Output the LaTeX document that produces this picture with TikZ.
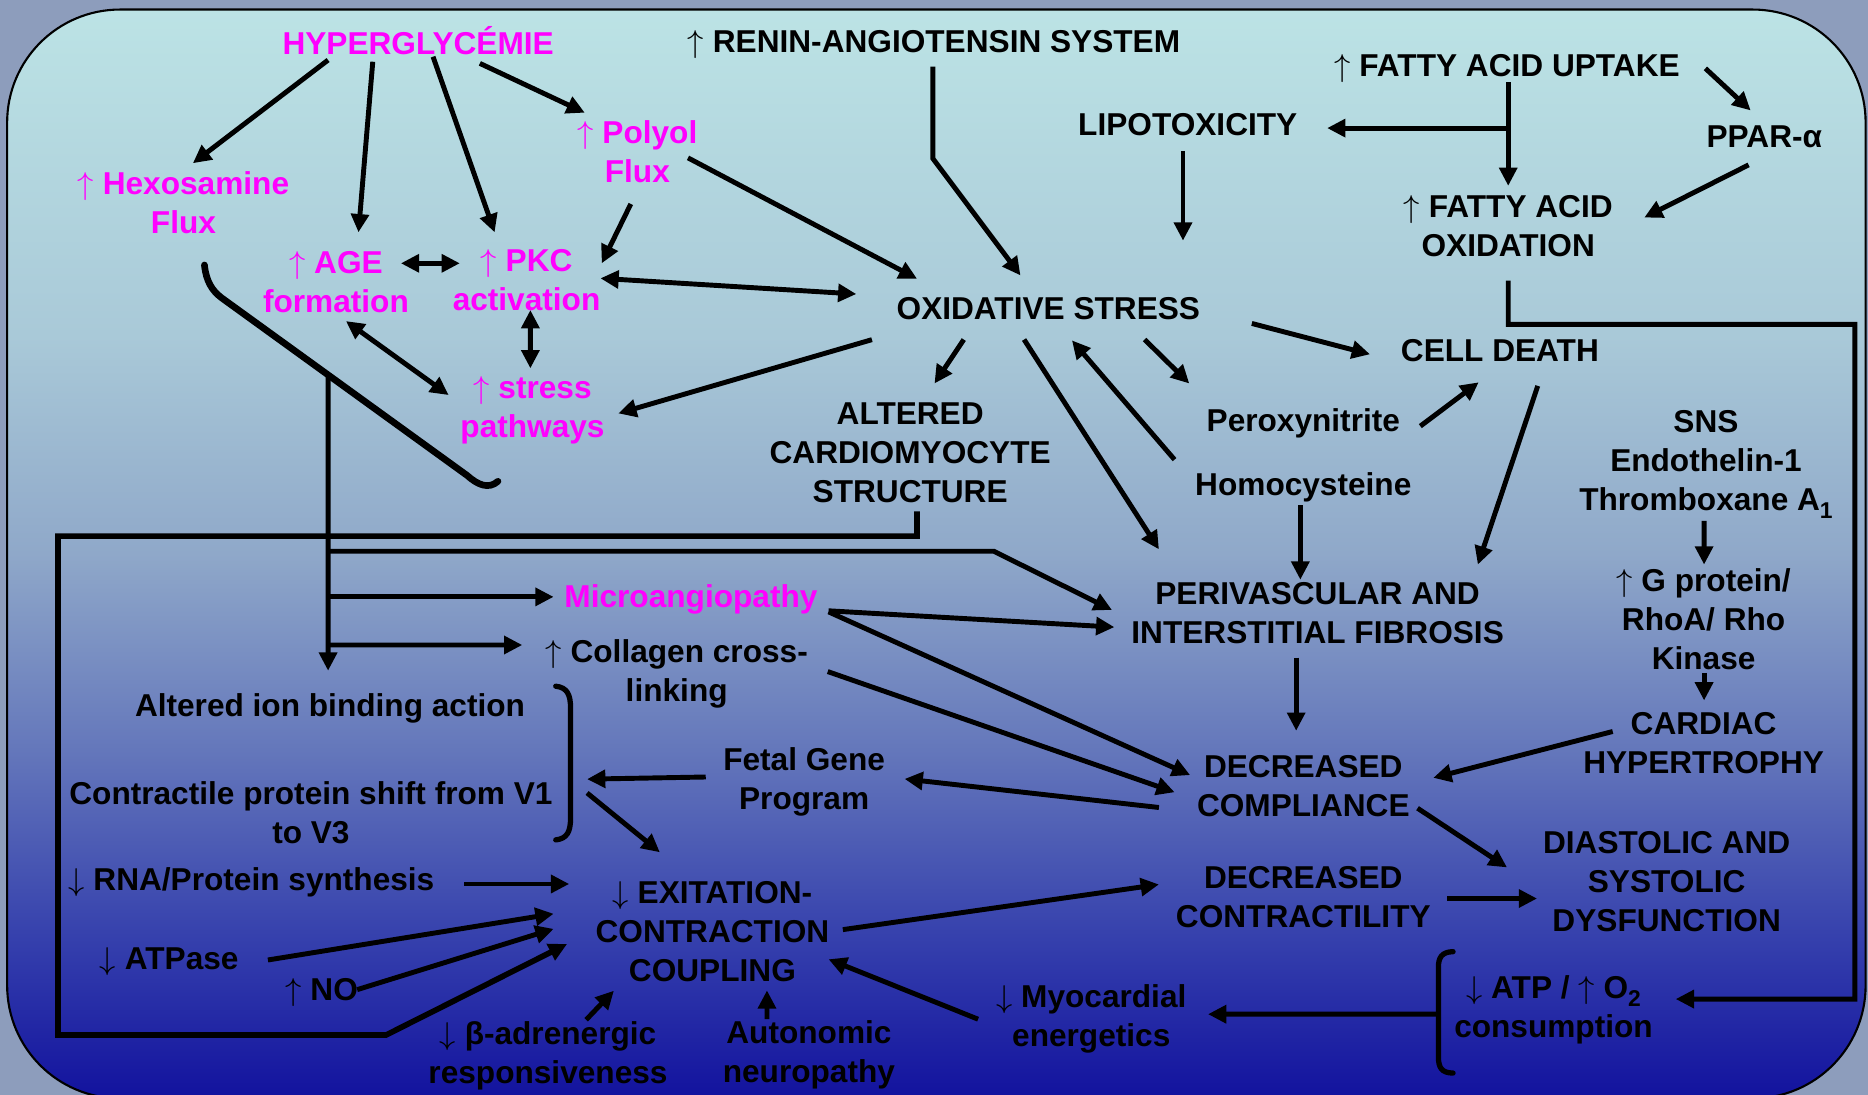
\documentclass[tikz,border=0pt]{standalone}
\usepackage{fontspec}
\setmainfont{Liberation Sans}
\usetikzlibrary{arrows.meta, calc}
\definecolor{magpink}{RGB}{255,0,255}
\definecolor{bgA}{HTML}{BCE3E5}
\definecolor{bgB}{HTML}{A9C9D8}
\definecolor{bgC}{HTML}{8FA8C9}
\definecolor{bgD}{HTML}{6477BB}
\definecolor{bgE}{HTML}{3641AD}
\definecolor{bgF}{HTML}{12129E}
\definecolor{outerbg}{HTML}{8D9DBC}
\pgfdeclareverticalshading{slideshade}{100bp}{color(0bp)=(bgF); color(25bp)=(bgF); color(32.5bp)=(bgE);
  color(41bp)=(bgD); color(50bp)=(bgC); color(60bp)=(bgB); color(75bp)=(bgA); color(100bp)=(bgA)}
\newcommand{\UpArr}{\smash{$\uparrow$}}
\newcommand{\DnArr}{\smash{$\downarrow$}}
\newcommand{\Sub}[1]{\smash{\raisebox{-0.45ex}{\fontsize{6.5}{6.5}\selectfont #1}}}

\begin{document}
\begin{tikzpicture}[
    x=0.011913cm, y=-0.011913cm,
    >={Triangle[length=5.2pt,width=5pt]},
    lbl/.style={font=\fontsize{9}{11.1}\selectfont\bfseries, align=center, inner sep=0pt},
    mag/.style={lbl, text=magpink},
    arr/.style={->, line width=1.4pt},
    dbl/.style={<->, line width=1.4pt},
    brk/.style={line width=1.5pt, line cap=round}
  ]
    % Background
    \useasboundingbox (0,0) rectangle (1568,919);
    \fill[outerbg] (0,0) rectangle (1568,919);
    \shade[shading=slideshade, draw=black, line width=0.6pt, rounded corners=1.13cm] (6,8) rectangle (1566,922);

    % Top row
    \node[mag] (hyper) at (351,34) {HYPERGLYCÉMIE};
    \node[lbl] (renin) at (784,35) {\UpArr{} RENIN-ANGIOTENSIN SYSTEM};
    \node[lbl] (fauptake) at (1265,55) {\UpArr{} FATTY ACID UPTAKE};
    \node[lbl] (lipo) at (997,105) {LIPOTOXICITY};
    \node[lbl] (ppar) at (1481,115) {PPAR-α};
    \node[lbl] (faox) at (1266,190) {\UpArr{} FATTY ACID\\OXIDATION};

    % Hyperglycaemia pathways
    \node[mag] (polyol) at (535,127) {\UpArr{} Polyol\\Flux};
    \node[mag] (hexo) at (154,170) {\UpArr{} Hexosamine\\Flux};
    \node[mag] (age) at (282,237) {\UpArr{} AGE\\formation};
    \node[mag] (pkc) at (442,235) {\UpArr{} PKC\\activation};
    \node[mag] (stress) at (447,345) {\UpArr{} stress\\pathways};

    % Middle
    \node[lbl] (oxst) at (880,259) {OXIDATIVE STRESS};
    \node[lbl] (death) at (1259,294) {CELL DEATH};
    \node[lbl] (altered) at (764,380) {ALTERED\\CARDIOMYOCYTE\\STRUCTURE};
    \node[lbl] (peroxy) at (1094,355) {Peroxynitrite};
    \node[lbl] (homo) at (1094,409) {Homocysteine};
    \node[lbl] (sns) at (1432,387) {SNS\\Endothelin-1\\Thromboxane A\Sub{1}};
    \node[lbl] (fibro) at (1106,515) {PERIVASCULAR AND\\INTERSTITIAL FIBROSIS};
    \node[mag] (micro) at (580,503) {Microangiopathy};
    \node[lbl] (collagen) at (568,566) {\UpArr{} Collagen cross-\\linking};
    \node[lbl] (gprot) at (1430,520) {\UpArr{} G protein/\\RhoA/ Rho\\Kinase};

    % Lower part
    \node[lbl] (ion) at (277,595) {Altered ion binding action};
    \node[lbl] (contractile) at (261,682) {Contractile protein shift from V1\\to V3};
    \node[lbl] (fetal) at (675,656) {Fetal Gene\\Program};
    \node[lbl] (compl) at (1094,660) {DECREASED\\COMPLIANCE};
    \node[lbl] (hypertr) at (1430,624) {CARDIAC\\HYPERTROPHY};
    \node[lbl] (dysf) at (1399,740) {DIASTOLIC AND\\SYSTOLIC\\DYSFUNCTION};
    \node[lbl] (rna) at (211,741) {\DnArr{} RNA/Protein synthesis};
    \node[lbl] (ecc) at (598,782) {\DnArr{} EXITATION-\\CONTRACTION\\COUPLING};
    \node[lbl] (contr) at (1094,753) {DECREASED\\CONTRACTILITY};
    \node[lbl] (atpase) at (142,805) {\DnArr{} ATPase};
    \node[lbl] (no) at (270,831) {\UpArr{} NO};
    \node[lbl] (myo) at (916,855) {\DnArr{} Myocardial\\energetics};
    \node[lbl] (atp) at (1304,848) {\DnArr{} ATP / \UpArr{} O\Sub{2}\\consumption};
    \node[lbl] (beta) at (460,886) {\DnArr{} β-adrenergic\\responsiveness};
    \node[lbl] (auto) at (679,885) {Autonomic\\neuropathy};

    % Helper points
    \coordinate (spine) at (275.4,314.8);
    \coordinate (jFib) at (275.4,462.7);
    \coordinate (jMic) at (275.4,501);
    \coordinate (jCol) at (275.4,541.4);
    \coordinate (loopNW) at (48.7,450);
    \coordinate (loopSW) at (48.7,868.8);
    \coordinate (loopSE) at (324,868.8);
    \coordinate (rimNE) at (1557,272.3);
    \coordinate (rimSE) at (1557,838.6);
    \coordinate (ionbrk) at (478,654);
    \coordinate (atpbrk) at (1207.4,851.3);

    % Hyperglycaemia arrows
    \draw[arr] ($(hyper)+(-75.6,16.4)$) -- ($(hexo)+(7.9,-33)$);
    \draw[arr] ($(hyper)+(-38.1,17.8)$) -- ($(age)+(18.9,-42)$);
    \draw[arr] ($(hyper)+(12.5,13.6)$) -- ($(pkc)+(-26.8,-40)$);
    \draw[arr] ($(hyper)+(51.8,19.2)$) -- ($(polyol)+(-44.1,-32.4)$);
    \draw[arr] ($(polyol)+(-5.5,44.2)$) -- ($(pkc)+(63.1,-14)$);
    \draw[arr] ($(polyol)+(42.5,5.5)$) -- ($(oxst)+(-110.2,-25)$);
    \draw[dbl] ($(age)+(54.5,-16)$) -- ($(pkc)+(-56,-14)$);
    \draw[dbl] ($(pkc)+(62,-1.4)$) -- ($(oxst)+(-161.2,-12.2)$);
    \draw[dbl] ($(pkc)+(3.2,25.2)$) -- ($(stress)+(-1.8,-35.8)$);
    \draw[dbl] ($(age)+(8.4,32.5)$) -- ($(stress)+(-70.4,-13.4)$);
    \draw[arr] ($(oxst)+(-148.1,26.1)$) -- ($(stress)+(72,2)$);
    \draw[line width=1.9pt, line cap=round] ($(hexo)+(17.6,52.4)$) .. controls (173,236) and (178,244) .. (186,250)
      -- (392,399) .. controls (401,407) and (410,411) .. (418,404);

    % Oxidative stress and lipids
    \draw[arr] ($(renin)+(-1,21)$) -- ++(0,77) -- ($(oxst)+(-23.4,-27.8)$);
    \draw[arr] ($(fauptake)+(1,14)$) -- ($(faox)+(0,-34)$);
    \draw[arr] ($(fauptake)+(1,52.5)$) -- ($(lipo)+(117,2.5)$);
    \draw[arr] ($(lipo)+(-4,21.6)$) -- ($(oxst)+(113,-57)$);
    \draw[arr] ($(fauptake)+(166.5,2.4)$) -- ($(ppar)+(-11.5,-22.3)$);
    \draw[arr] ($(ppar)+(-13.2,23.4)$) -- ($(faox)+(114.2,-7.4)$);
    \draw[arr] ($(faox)+(0,45.5)$) |- (rimNE) -- (rimSE) -- ($(atp)+(102.6,-9.4)$);
    \draw[arr] ($(oxst)+(170.8,12.5)$) -- ($(death)+(-109,3.4)$);
    \draw[arr] ($(oxst)+(-71,26)$) -- ($(altered)+(20.4,-58.1)$);
    \draw[arr] ($(oxst)+(-20.4,26)$) -- ($(fibro)+(-133.2,-53.9)$);
    \draw[arr] ($(homo)+(-108.1,-23.2)$) -- ($(oxst)+(19.8,26.7)$);
    \draw[arr] ($(oxst)+(80.8,26)$) -- ($(peroxy)+(-95.7,-33.1)$);
    \draw[arr] ($(peroxy)+(98.2,2.7)$) -- ($(death)+(-17.8,26.9)$);
    \draw[arr] ($(death)+(31.8,29.9)$) -- ($(fibro)+(134.5,-41.1)$);
    \draw[arr] ($(homo)+(-2.5,15)$) -- ($(fibro)+(-14.5,-28.4)$);
    \draw[arr] ($(sns)+(-1.6,50.3)$) -- ($(gprot)+(0.4,-46.1)$);
    \draw[arr] ($(gprot)+(0.4,44.7)$) -- ($(hypertr)+(0.4,-36)$);
    \draw[arr] ($(hypertr)+(-76.3,-10)$) -- ($(compl)+(109.1,-7.1)$);
    \draw[arr] ($(fibro)+(-18,37)$) -- ($(compl)+(-6,-46.6)$);

    % Spine from the hexosamine hook
    \draw[arr] (spine) -- ($(ion)+(-1.6,-32)$);
    \draw[arr] (jFib) -- ++(558.8,0) -- ($(fibro)+(-172.6,-3)$);
    \draw[arr] (jMic) -- ($(micro)+(-115.3,-2)$);
    \draw[arr] (jCol) -- ($(collagen)+(-129.6,-24.6)$);
    \draw[arr] ($(micro)+(115.5,9.7)$) -- ($(fibro)+(-170.6,11.4)$);
    \draw[arr] ($(micro)+(115.5,10.6)$) -- ($(compl)+(-95,-9.4)$);
    \draw[arr] ($(collagen)+(126.8,-2.3)$) -- ($(compl)+(-108,5)$);
    \draw[arr] ($(compl)+(-121.2,17.8)$) -- ($(fetal)+(84.3,-2.2)$);

    % Brackets
    \draw[brk] (466.5,576) .. controls (476,577) and (478.9,583) .. (478.9,594) -- (478.9,687)
      .. controls (478.9,698) and (476,704) .. (466.5,705);
    \draw[brk] (1219.7,798.8) .. controls (1210,799) and (1207.4,804) .. (1207.4,812) -- (1207.4,887)
      .. controls (1207.4,896) and (1210,900.7) .. (1219.7,900.7);

    % Excitation-contraction coupling
    \draw[arr] ($(fetal)+(-82.6,-3.8)$) -- ($(ionbrk)+(14.8,0)$);
    \draw[arr] ($(ionbrk)+(14.8,11.6)$) -- ($(ecc)+(-44.1,-66.6)$);
    \draw[arr] ($(rna)+(178.7,1)$) -- ($(ecc)+(-120.2,-40)$);
    \draw[arr] ($(atpase)+(82.9,0.8)$) -- ($(ecc)+(-133.3,-15)$);
    \draw[arr] ($(no)+(29.8,-0.3)$) -- ($(ecc)+(-133.3,-2.3)$);
    \draw[arr, line width=1.6pt] ($(altered)+(5.7,49.3)$) |- (loopNW) -- (loopSW) -- (loopSE) -- ($(ecc)+(-122,10.4)$);
    \draw[arr] ($(beta)+(32,-30)$) -- ($(ecc)+(-82.7,49.6)$);
    \draw[arr] ($(auto)+(-35.2,-29.5)$) -- ($(ecc)+(45.8,49.3)$);
    \draw[arr] ($(ecc)+(109.5,-1.7)$) -- ($(contr)+(-121.2,-10.6)$);
    \draw[arr] ($(myo)+(-95,0.5)$) -- ($(ecc)+(97.5,23.2)$);
    \draw[arr] (atpbrk) -- ($(myo)+(98,-3.7)$);

    % Dysfunction
    \draw[arr] ($(compl)+(95.9,18.4)$) -- ($(dysf)+(-134,-11.9)$);
    \draw[arr] ($(contr)+(120.7,1.2)$) -- ($(dysf)+(-108.8,14.2)$);
  \end{tikzpicture}
\end{document}
